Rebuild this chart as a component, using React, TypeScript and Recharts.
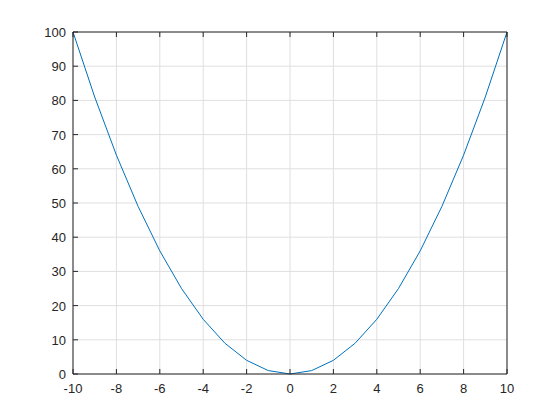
import React from 'react';
import { LineChart, Line, XAxis, YAxis, CartesianGrid } from 'recharts';

const xValues = [-10, -9, -8, -7, -6, -5, -4, -3, -2, -1, 0, 1, 2, 3, 4, 5, 6, 7, 8, 9, 10];
const yValues = [100, 81, 64, 49, 36, 25, 16, 9, 4, 1, 0, 1, 4, 9, 16, 25, 36, 49, 64, 81, 100];
const xTicks = [-10, -8, -6, -4, -2, 0, 2, 4, 6, 8, 10];
const yTicks = [0, 10, 20, 30, 40, 50, 60, 70, 80, 90, 100];

const data = xValues.map((x, i) => ({ x, y: yValues[i] }));

const AXIS = '#262626';
const FONT = 'Arial, "Liberation Sans", Helvetica, sans-serif';
const TICK_LEN = 5;

const BottomTick = (props: any) => {
  const { x, y, payload } = props;
  return (
    <g>
      <line x1={x} x2={x} y1={y} y2={y - TICK_LEN} stroke={AXIS} strokeWidth={1} />
      <text x={x} y={y + 19} textAnchor="middle" fill={AXIS} fontSize={13} fontFamily={FONT}>
        {payload.value}
      </text>
    </g>
  );
};

const TopTick = (props: any) => {
  const { x, y } = props;
  return <line x1={x} x2={x} y1={y} y2={y + TICK_LEN} stroke={AXIS} strokeWidth={1} />;
};

const LeftTick = (props: any) => {
  const { x, y, payload } = props;
  return (
    <g>
      <line x1={x} x2={x + TICK_LEN} y1={y} y2={y} stroke={AXIS} strokeWidth={1} />
      <text x={x - 7} y={y + 5} textAnchor="end" fill={AXIS} fontSize={13} fontFamily={FONT}>
        {payload.value}
      </text>
    </g>
  );
};

const RightTick = (props: any) => {
  const { x, y } = props;
  return <line x1={x} x2={x - TICK_LEN} y1={y} y2={y} stroke={AXIS} strokeWidth={1} />;
};

export default function App() {
  return (
    <div style={{ position: 'absolute', left: 0, top: 0, width: 560, height: 420, background: '#fff' }}>
      <LineChart
        width={560}
        height={420}
        data={data}
        margin={{ top: 2, right: 23, left: 33, bottom: 16 }}
      >
        <CartesianGrid xAxisId="b" yAxisId="l" stroke="#dfdfdf" strokeWidth={1} />
        <XAxis
          xAxisId="b"
          dataKey="x"
          type="number"
          domain={[-10, 10]}
          ticks={xTicks}
          height={30}
          tickSize={0}
          tickMargin={0}
          tickLine={false}
          tick={<BottomTick />}
          stroke={AXIS}
          interval={0}
        />
        <XAxis
          xAxisId="t"
          orientation="top"
          dataKey="x"
          type="number"
          domain={[-10, 10]}
          ticks={xTicks}
          height={30}
          tickSize={0}
          tickMargin={0}
          tickLine={false}
          tick={<TopTick />}
          stroke={AXIS}
          interval={0}
        />
        <YAxis
          yAxisId="l"
          type="number"
          domain={[0, 100]}
          ticks={yTicks}
          width={40}
          tickSize={0}
          tickMargin={0}
          tickLine={false}
          tick={<LeftTick />}
          stroke={AXIS}
          interval={0}
        />
        <YAxis
          yAxisId="r"
          orientation="right"
          type="number"
          domain={[0, 100]}
          ticks={yTicks}
          width={30}
          tickSize={0}
          tickMargin={0}
          tickLine={false}
          tick={<RightTick />}
          stroke={AXIS}
          interval={0}
        />
        <Line
          xAxisId="b"
          yAxisId="l"
          dataKey="y"
          type="linear"
          stroke="#0072BD"
          strokeWidth={1}
          dot={false}
          isAnimationActive={false}
        />
      </LineChart>
    </div>
  );
}
